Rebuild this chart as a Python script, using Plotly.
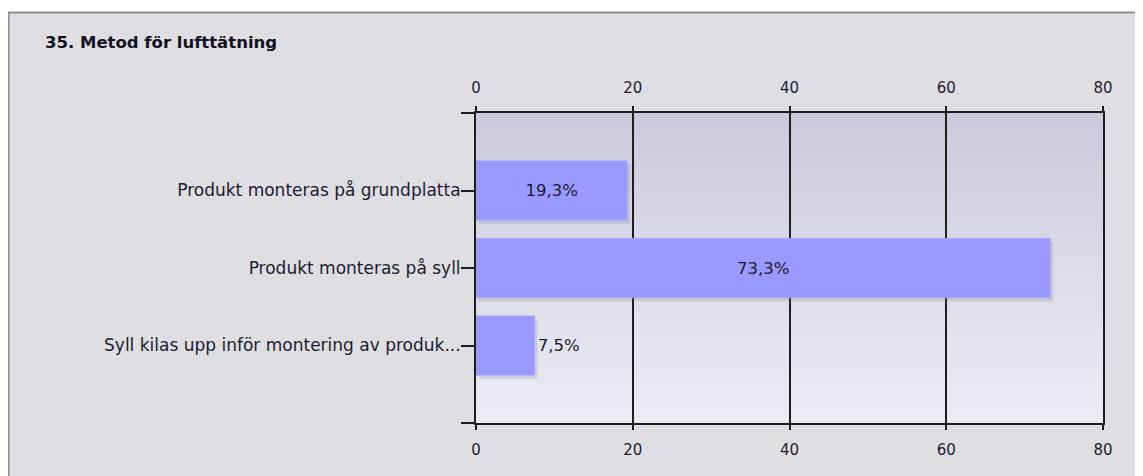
import plotly.graph_objects as go

categories = [
    "Produkt monteras på grundplatta",
    "Produkt monteras på syll",
    "Syll kilas upp inför montering av produk...",
]
values = [19.3, 73.3, 7.5]
x_ticks = [0, 20, 40, 60, 80]

# page body has an 8px margin, so figure coords = screen coords - 8
OFF = 8
W, H = 1143 - OFF, 476 - OFF
L, R, T, B = 476 - OFF, 1103 - OFF, 113 - OFF, 423 - OFF  # plot area pixels
FONT = "DejaVu Sans"

pos = list(range(len(categories)))
labels = [f"{v:.1f}%".replace(".", ",") for v in values]
textpos = ["inside" if v > 12 else "outside" for v in values]

fig = go.Figure()
# soft shadow behind bars
fig.add_trace(go.Bar(
    y=pos, x=values, orientation="h", base=0.35,
    width=0.77, offset=-0.385 + 0.045,
    marker=dict(color="rgba(110,110,125,0.2)", line=dict(width=0)),
    hoverinfo="skip", showlegend=False,
))
fig.add_trace(go.Bar(
    y=pos, x=values, orientation="h",
    width=0.77,
    marker=dict(color="#9999ff", line=dict(color="#aab0ff", width=0.5)),
    text=labels, textposition=textpos, insidetextanchor="middle",
    textfont=dict(family=FONT, size=16.5, color="#1c1c30"),
    cliponaxis=False,
    hoverinfo="skip", showlegend=False,
))

def px2paper_x(px):
    return (px - L) / (R - L)

def px2paper_y(py):
    return (B - py) / (B - T)

shapes = []
# outer frame
shapes.append(dict(
    type="rect", xref="paper", yref="paper", layer="below",
    x0=px2paper_x(0.5), x1=px2paper_x(1160), y0=px2paper_y(500), y1=px2paper_y(4.5),
    fillcolor="#dfdee3", line=dict(color="#8c8e86", width=2),
))
# vertical gradient in plot area
top_c = (203, 202, 219)
bot_c = (236, 236, 244)
n = 40
for i in range(n):
    f = i / (n - 1)
    c = tuple(round(top_c[k] + (bot_c[k] - top_c[k]) * f) for k in range(3))
    shapes.append(dict(
        type="rect", xref="paper", yref="paper", layer="below",
        x0=0, x1=1, y0=1 - (i + 1) / n, y1=1 - i / n + 0.002,
        fillcolor=f"rgb{c}", line=dict(width=0),
    ))

axis_common = dict(
    range=[0, 80], tickvals=x_ticks, ticktext=[str(t) for t in x_ticks],
    showgrid=True, gridcolor="#1e1e1e", gridwidth=1.5,
    zeroline=False, showline=True, linecolor="#1e1e1e", linewidth=2,
    ticks="outside", ticklen=5, tickwidth=1.5, tickcolor="#1e1e1e",
    tickfont=dict(family=FONT, size=15, color="#1c1c30"),
    fixedrange=True,
)

fig.update_layout(
    width=W, height=H,
    margin=dict(l=L, r=W - R, t=T, b=H - B, pad=0),
    paper_bgcolor="white",
    plot_bgcolor="rgba(0,0,0,0)",
    barmode="overlay",
    shapes=shapes,
    font=dict(family=FONT, color="#1c1c30"),
    title=dict(
        text="<b>35. Metod för lufttätning</b>",
        x=37 / W, xanchor="left", xref="container",
        y=1 - 34 / H, yanchor="middle", yref="container",
        font=dict(family=FONT, size=16.5, color="#111122"),
    ),
    xaxis=dict(side="bottom", ticklabelstandoff=7, **axis_common),
    xaxis2=dict(side="top", overlaying="x", matches="x", ticklabelstandoff=7, **axis_common),
    yaxis=dict(
        range=[3, -1], tickvals=pos, ticktext=categories,
        showgrid=False, zeroline=False,
        showline=True, mirror=True, linecolor="#1e1e1e", linewidth=2,
        ticks="outside", ticklen=13, tickwidth=1.5, tickcolor="#1e1e1e",
        minor=dict(tickvals=[-1, 3], ticks="outside", ticklen=13, tickwidth=1.5, tickcolor="#1e1e1e"),
        tickfont=dict(family=FONT, size=17, color="#1c1c30"),
        ticklabelstandoff=-3,
        fixedrange=True,
    ),
)
# invisible trace to activate top axis
fig.add_trace(go.Scatter(x=[0], y=[0], xaxis="x2", mode="markers",
                         marker=dict(opacity=0), hoverinfo="skip", showlegend=False))

fig.write_html("out.html")
